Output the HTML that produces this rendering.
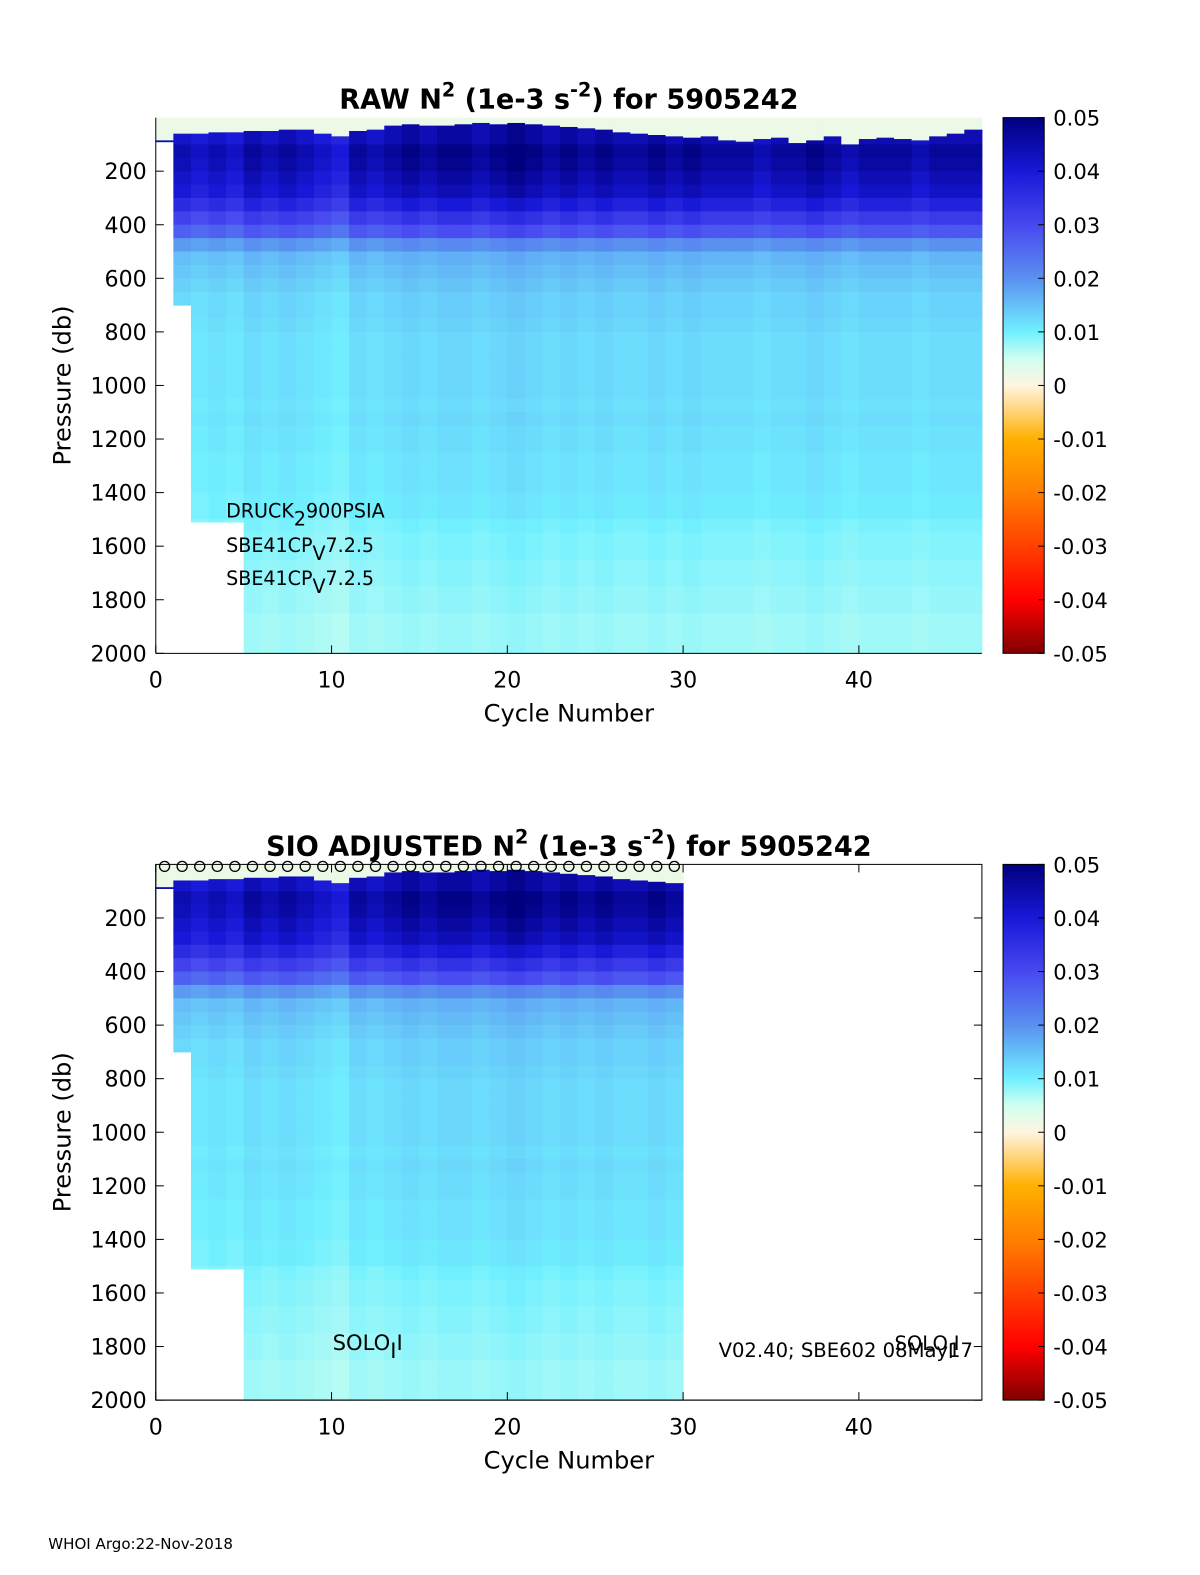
<!DOCTYPE html>
<html><head><meta charset="utf-8">
<style>
html,body{margin:0;padding:0;background:#fff;width:1200px;height:1575px;overflow:hidden;}
svg{display:block;font-family:"DejaVu Sans","Liberation Sans",sans-serif;}
</style></head>
<body>
<svg id="fig" width="1200" height="1575" viewBox="0 0 1194 1567" preserveAspectRatio="none" xmlns="http://www.w3.org/2000/svg">
<defs>
<linearGradient id="cbg" x1="0" y1="1" x2="0" y2="0">
<stop offset="0" stop-color="#800000"/>
<stop offset="0.1" stop-color="#ff0000"/>
<stop offset="0.2" stop-color="#ff4000"/>
<stop offset="0.3" stop-color="#ff8000"/>
<stop offset="0.4" stop-color="#ffb000"/>
<stop offset="0.47" stop-color="#ffe0a0"/>
<stop offset="0.5" stop-color="#fff5e0"/>
<stop offset="0.55" stop-color="#d0fff0"/>
<stop offset="0.6" stop-color="#70f0ff"/>
<stop offset="0.7" stop-color="#5a90f0"/>
<stop offset="0.8" stop-color="#4848f0"/>
<stop offset="0.9" stop-color="#1818d8"/>
<stop offset="1" stop-color="#00007f"/>
</linearGradient>
</defs>
<g id="p1"></g>
<g id="p2"></g>
<text x="48" y="1541" font-size="15">WHOI Argo:22-Nov-2018</text>
</svg>
<script>
// ---- data ----
const cycles = Array.from({length:47},(_,i)=>i+1);
const maxPressure = [90,700,1510,1510,1510,2000,2000,2000,2000,2000,2000,2000,2000,2000,2000,2000,2000,2000,2000,2000,2000,2000,2000,2000,2000,2000,2000,2000,2000,2000,2000,2000,2000,2000,2000,2000,2000,2000,2000,2000,2000,2000,2000,2000,2000,2000,2000];
const mixedLayer = [85,60,60,55,55,50,50,45,45,60,70,50,45,30,25,30,30,25,20,25,20,25,30,35,40,45,55,60,65,70,75,70,85,90,80,75,95,85,70,100,80,75,80,85,70,60,45];
const cycleFactor = [1,0.95,0.9,0.95,0.9,1,0.95,1,0.95,0.9,0.85,1,0.95,1,1.05,1,1.05,1.05,1,1.05,1.1,1.05,1,1.05,1,1.05,1,1,1.05,1,1.05,1,1,1,0.95,1,1,1.05,1,0.95,1,1,1,0.95,1,1,1];
// N2 profile at 50-db bins (0-2000)
const profile = [0.003,0.044,0.047,0.046,0.044,0.042,0.038,0.033,0.028,0.02,0.016,0.015,0.014,0.013,0.013,0.0125,0.012,0.012,0.012,0.012,0.012,0.0115,0.012,0.0115,0.0115,0.011,0.011,0.011,0.0105,0.0105,0.0095,0.009,0.009,0.0085,0.0085,0.008,0.008,0.0075,0.0075,0.0075];
const xTicks = [0,10,20,30,40];
const yTicks = [200,400,600,800,1000,1200,1400,1600,1800,2000];
const cbTicks = [0.05,0.04,0.03,0.02,0.01,0,-0.01,-0.02,-0.03,-0.04,-0.05];
const cbLabels = ["0.05","0.04","0.03","0.02","0.01","0","-0.01","-0.02","-0.03","-0.04","-0.05"];

const stops=[[-0.05,[128,0,0]],[-0.04,[255,0,0]],[-0.03,[255,64,0]],[-0.02,[255,128,0]],[-0.01,[255,176,0]],[-0.003,[255,224,160]],[0,[255,245,224]],[0.005,[208,255,240]],[0.01,[112,240,255]],[0.02,[90,144,240]],[0.03,[72,72,240]],[0.04,[24,24,216]],[0.05,[0,0,127]]];
function color(v){v=Math.max(-0.05,Math.min(0.05,v));for(let i=1;i<stops.length;i++){if(v<=stops[i][0]){const a=stops[i-1],b=stops[i];const t=(v-a[0])/(b[0]-a[0]);const c=a[1].map((x,k)=>Math.round(x+(b[1][k]-x)*t));return `rgb(${c})`;}}return 'rgb(0,0,127)';}
const NS='http://www.w3.org/2000/svg';
function mk(p,tag,at,txt){const e=document.createElementNS(NS,tag);for(const k in at)e.setAttribute(k,at[k]);if(txt!==undefined)e.textContent=txt;p.appendChild(e);return e;}

function panel(g,top,bottom,ncyc,title,box){
  const L=155,R=977;
  const x=c=>L+(R-L)*c/47;
  const y=p=>top+(bottom-top)*p/2000;
  const hm=mk(g,'g',{});
  
  
  for(let i=0;i<ncyc;i++){
    const c=cycles[i];
    for(let b=0;b<profile.length;b++){
      const p0=b*50,p1=p0+50;
      if(p0>=maxPressure[i])break;
      const pe=Math.min(p1,maxPressure[i]);
      let v=profile[b]*cycleFactor[i];
      if(p0<mixedLayer[i]){
        const ml=Math.min(mixedLayer[i],pe);
        const r=mk(hm,'rect',{x:x(c-1),y:y(p0),width:x(c)-x(c-1)+0.5,height:y(ml)-y(p0)+0.5,fill:color(0.002)});
        
        
        if(ml>=pe)continue;
        const r2=mk(hm,'rect',{x:x(c-1),y:y(ml),width:x(c)-x(c-1)+0.5,height:y(pe)-y(ml)+0.5,fill:color(Math.max(v,0.044*cycleFactor[i]))});
        
        
        continue;
      }
      if(b<2) v=0.044*cycleFactor[i];
      const r=mk(hm,'rect',{x:x(c-1),y:y(p0),width:x(c)-x(c-1)+0.5,height:y(pe)-y(p0)+0.5,fill:color(v)});
      
      
    }
  }
  if(box){
    const bx=mk(g,'rect',{x:L,y:top,width:R-L,height:bottom-top,fill:'none',stroke:'#000','stroke-width':1});
    
    
  }
  const ax=mk(g,'g',{stroke:'#000','stroke-width':1});
  
  
  mk(ax,'line',{x1:L,y1:top,x2:L,y2:bottom});
  mk(ax,'line',{x1:L,y1:bottom,x2:R,y2:bottom});
  xTicks.forEach(t=>{
    mk(ax,'line',{x1:x(t),y1:bottom,x2:x(t),y2:bottom-8});
    if(box) mk(ax,'line',{x1:x(t),y1:top,x2:x(t),y2:top+8});
    const tl=mk(g,'text',{x:x(t),y:bottom+34,'font-size':22,'text-anchor':'middle'},String(t));
    
    
  });
  yTicks.forEach(t=>{
    mk(ax,'line',{x1:L,y1:y(t),x2:L+8,y2:y(t)});
    if(box) mk(ax,'line',{x1:R,y1:y(t),x2:R-8,y2:y(t)});
    const tl=mk(g,'text',{x:L-9,y:y(t)+8,'font-size':22,'text-anchor':'end'},String(t));
    
    
  });
  const xl=mk(g,'text',{x:566,y:bottom+68,'font-size':24,'text-anchor':'middle'},'Cycle Number');
  
  
  const yc=(top+bottom)/2;
  const yl=mk(g,'text',{x:70,y:yc,'font-size':24,'text-anchor':'middle',transform:`rotate(-90 70 ${yc})`},'Pressure (db)');
  
  
  const tt=mk(g,'text',{x:566,y:top-9,'font-size':27,'font-weight':'bold','text-anchor':'middle'});
  
  
  tt.setAttribute('xml:space','preserve');
  mk(tt,'tspan',{},title+' N');
  mk(tt,'tspan',{dy:-12,'font-size':19},'2');
  mk(tt,'tspan',{dy:12},' (1e-3 s');
  mk(tt,'tspan',{dy:-12,'font-size':19},'-2');
  mk(tt,'tspan',{dy:12},') for 5905242');
  const cb=mk(g,'rect',{x:998,y:top,width:41,height:bottom-top,fill:'url(#cbg)',stroke:'#000','stroke-width':1});
  
  
  const cy=v=>top+(bottom-top)*(0.05-v)/0.1;
  cbTicks.forEach((v,i)=>{
    mk(g,'line',{x1:1033,y1:cy(v),x2:1039,y2:cy(v),stroke:'#000'});
    const tl=mk(g,'text',{x:1048,y:cy(v)+8,'font-size':21},cbLabels[i]);
    
    
  });
  return {x,y};
}
const g1=document.getElementById('p1'),g2=document.getElementById('p2');
panel(g1,117,650,47,'RAW',false);
const a2=panel(g2,860,1393,30,'SIO  ADJUSTED',true);
for(let i=0;i<30;i++){
  const c=mk(g2,'circle',{cx:a2.x(cycles[i]-0.5),cy:862,r:5,fill:'none',stroke:'#000','stroke-width':1.3});
  
  
}
function sublabel(g,x,y,parts,fs,name){
  const t=mk(g,'text',{x:x,y:y,'font-size':fs});
  
  
  parts.forEach(p=>{mk(t,'tspan',p[1]?{dy:p[1]}:{},p[0]);});
  return t;
}
sublabel(g1,225,515,[['DRUCK'],['2',8],['900PSIA',-8]],19,'sensor-label');
sublabel(g1,225,549,[['SBE41CP'],['V',8],['7.2.5',-8]],19,'sensor-label');
sublabel(g1,225,582,[['SBE41CP'],['V',8],['7.2.5',-8]],19,'sensor-label');
sublabel(g2,331,1343,[['SOLO'],['I',8],['I',-8]],21,'float-type-label');
sublabel(g2,715,1350,[['V02.40; SBE602 08May17']],19.5,'firmware-label');
sublabel(g2,890,1343,[['SOLO'],['I',8],['I',-8]],19.5,'float-type-label');
</script>
</body></html>
